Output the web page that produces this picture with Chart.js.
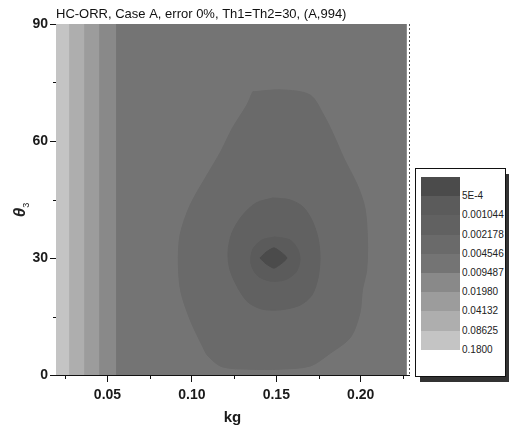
<!DOCTYPE html>
<html><head><meta charset="utf-8">
<script src="https://cdn.jsdelivr.net/npm/chart.js@4/dist/chart.umd.min.js"></script>
<style>
html,body{margin:0;padding:0;background:#fff;}
#wrap{position:relative;width:509px;height:433px;overflow:hidden;font-family:"Liberation Sans",Arial,sans-serif;}
#c{position:absolute;left:0;top:0;}
#ytitle{position:absolute;left:0;top:200px;width:40px;height:20px;line-height:20px;text-align:center;transform:rotate(-90deg);font:italic bold 17px "Liberation Sans",Arial,sans-serif;color:#222;white-space:nowrap;}
#ytitle sub{font-size:9px;font-style:normal;font-weight:normal;}
#legShadow{position:absolute;left:420px;top:174px;width:91px;height:208px;background:#333;}
#leg{position:absolute;left:415px;top:168px;width:89px;height:207px;border:1px solid #111;background:#fff;}
.sw{position:absolute;left:5px;width:39px;}
.lb{position:absolute;left:46px;font-size:10px;color:#222;line-height:12px;white-space:nowrap;}
</style></head>
<body>
<div id="wrap">
<canvas id="c" width="509" height="433"></canvas>
<div id="ytitle">θ<sub>3</sub></div>
<div id="legShadow"></div>
<div id="leg"></div>
</div>
<script>
// ---- data ----
const titleText = 'HC-ORR, Case A, error 0%, Th1=Th2=30, (A,994)';
const xTickLabels = [0.05, 0.10, 0.15, 0.20];
const yTickLabels = [0, 30, 60, 90];
const xMinorTicks = [0.025, 0.075, 0.125, 0.175, 0.225];
const yMinorTicks = [15, 45, 75];
const levelLabels = ['5E-4','0.001044','0.002178','0.004546','0.009487','0.01980','0.04132','0.08625','0.1800'];
const levelColors = ['#4b4b4b','#5b5b5b','#616161','#6a6a6a','#747474','#898989','#9c9c9c','#aeaeae','#c4c4c4'];
// vertical band boundaries (kg), from the left edge of the data
const bandEdges = [0.0195, 0.0278, 0.0367, 0.0456, 0.0556];
const dataXMax = 0.2268;
const thetaRange = [0, 90];
// contour polygons (kg, theta3)
const pearX = [0.136,0.153,0.170,0.178,0.184,0.190,0.198,0.2025,0.204,0.2035,0.201,0.1995,0.194,0.182,0.170,0.152,0.134,0.118,0.1095,0.1065,0.099,0.0935,0.092,0.093,0.099,0.109,0.117,0.124,0.1325];
const pearY = [72.6,73.1,71.8,66.7,61.5,55.6,48.7,42.8,34.6,26.9,21.8,15.9,9.7,5.6,2.3,1.5,1.5,2.1,4.9,7.2,14.1,21.3,28.2,35.9,43.6,51.3,57.2,63.3,69.2];
const eggX = [0.1480,0.1581,0.1658,0.1711,0.1747,0.1759,0.1747,0.1711,0.1640,0.1522,0.1415,0.1332,0.1273,0.1226,0.1214,0.1237,0.1297,0.1380];
const eggY = [45.4,44.9,43.1,39.7,35.1,30.0,24.9,20.5,17.9,16.7,16.9,18.7,22.3,26.9,31.5,36.4,40.8,44.1];
const ringX = [0.1492,0.1581,0.1628,0.1640,0.1617,0.1551,0.1463,0.1386,0.1350,0.1362,0.1415];
const ringY = [35.4,34.6,32.1,29.5,26.4,24.4,24.1,25.6,28.7,32.3,34.6];
const coreX = [0.1403,0.1439,0.1486,0.1528,0.1563,0.1528,0.1486,0.1439];
const coreY = [30.0,31.5,32.6,31.5,30.0,28.5,27.4,28.5];

// ---- build datasets ----
function poly(xs, ys){ const p = xs.map((x,i)=>({x:x, y:ys[i]})); p.push({x:xs[0], y:ys[0]}); return p; }
function rect(x0, x1){ return poly([x0,x1,x1,x0],[thetaRange[0],thetaRange[0],thetaRange[1],thetaRange[1]]); }
function ds(points, color, order, tension){
  return {data:points, backgroundColor:color, borderColor:color, borderWidth:1, fill:'shape', pointRadius:0, tension:tension, order:order};
}
const datasets = [];
bandEdges.forEach((e,i)=>{ datasets.push(ds(rect(e, dataXMax), levelColors[8-i], 100-i, 0)); });
datasets.push(ds(poly(pearX,pearY), levelColors[3], 4, 0.3));
datasets.push(ds(poly(eggX,eggY), levelColors[2], 3, 0.3));
datasets.push(ds(poly(ringX,ringY), levelColors[1], 2, 0.3));
datasets.push(ds(poly(coreX,coreY), levelColors[0], 1, 0.2));

const FAM = "'Liberation Sans', Arial, sans-serif";
const extras = {
  id:'extras',
  afterDraw(chart){
    const {ctx, chartArea:a, scales:{x,y}} = chart;
    ctx.save();
    ctx.strokeStyle = '#111'; ctx.lineWidth = 1;
    ctx.beginPath();
    xMinorTicks.forEach(v=>{ const p = Math.round(x.getPixelForValue(v))+0.5; ctx.moveTo(p, a.bottom); ctx.lineTo(p, a.bottom+4); });
    yMinorTicks.forEach(v=>{ const p = Math.round(y.getPixelForValue(v))+0.5; ctx.moveTo(a.left-3, p); ctx.lineTo(a.left, p); });
    ctx.stroke();
    ctx.setLineDash([2,2]); ctx.strokeStyle = '#555';
    ctx.beginPath(); ctx.moveTo(Math.round(a.right)+0.5, a.top); ctx.lineTo(Math.round(a.right)+0.5, a.bottom); ctx.stroke();
    ctx.restore();
  }
};

new Chart(document.getElementById('c'), {
  type:'line',
  data:{datasets},
  options:{
    responsive:false, animation:false, devicePixelRatio:1,
    layout:{padding:{left:0,right:100,top:0,bottom:0}},
    plugins:{
      legend:{display:false}, tooltip:{enabled:false},
      title:{display:true, text:titleText, align:'start', fullSize:false, color:'#111',
        font:{family:FAM, size:13, weight:'normal', lineHeight:'16px'}, padding:{top:6,bottom:2}}
    },
    scales:{
      x:{type:'linear', min:0.0195, max:0.2286,
        afterFit(s){ s.height = 58; },
        afterBuildTicks(s){ s.ticks = xTickLabels.map(v=>({value:v})); },
        ticks:{callback:v=>Number(v).toFixed(2), font:{family:FAM,size:14,weight:'bold'}, color:'#1a1a1a', padding:5, maxRotation:0, autoSkip:false},
        grid:{drawOnChartArea:false, drawTicks:true, tickLength:7, tickColor:'#111', lineWidth:1},
        border:{display:true, color:'#111', width:1},
        title:{display:true, text:'kg', color:'#1a1a1a', font:{family:FAM,size:15,weight:'bold'}, padding:{top:0,bottom:6}}
      },
      y:{type:'linear', min:thetaRange[0], max:thetaRange[1],
        afterFit(s){ s.width = 56; },
        afterBuildTicks(s){ s.ticks = yTickLabels.map(v=>({value:v})); },
        ticks:{callback:v=>String(v), font:{family:FAM,size:14,weight:'bold'}, color:'#1a1a1a', padding:2, autoSkip:false},
        grid:{drawOnChartArea:false, drawTicks:true, tickLength:6, tickColor:'#111', lineWidth:1},
        border:{display:true, color:'#111', width:1}
      }
    }
  },
  plugins:[extras]
});

// ---- HTML legend ----
const leg = document.getElementById('leg');
const swTop = 8, swH = 19.2;
levelColors.forEach((c,i)=>{
  const s = document.createElement('div'); s.className='sw';
  s.style.top = (swTop + i*swH) + 'px'; s.style.height = (swH+0.5) + 'px'; s.style.background = c;
  leg.appendChild(s);
  const l = document.createElement('div'); l.className='lb';
  l.style.top = (swTop + (i+1)*swH - 6) + 'px'; l.textContent = levelLabels[i];
  leg.appendChild(l);
});
</script>
</body></html>
